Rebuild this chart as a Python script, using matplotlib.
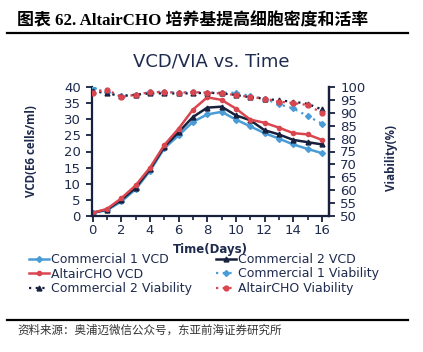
import matplotlib.pyplot as plt
import numpy as np

plt.rcParams['font.family'] = ['DejaVu Sans']

days = np.arange(0, 17)

# VCD (E6 cells/ml)
c1_vcd = [1.0, 1.8, 4.5, 8.3, 14.0, 21.0, 25.0, 29.2, 31.5, 32.3, 29.9, 27.8, 25.7, 24.0, 22.2, 20.8, 19.5]
c2_vcd = [1.0, 2.0, 5.0, 8.8, 14.5, 21.5, 26.0, 30.7, 33.6, 33.9, 31.2, 29.7, 26.6, 25.3, 23.6, 22.9, 22.2]
alt_vcd = [1.0, 2.2, 5.5, 9.5, 15.0, 22.0, 27.1, 33.0, 36.8, 36.0, 33.3, 29.9, 28.9, 27.4, 25.7, 25.3, 23.6]

# viability (%)
c1_via = [99.5, 98.0, 96.5, 97.0, 98.0, 98.2, 97.8, 98.0, 97.8, 97.8, 97.8, 96.5, 95.5, 93.3, 91.7, 88.8, 85.8]
c2_via = [98.5, 97.5, 96.5, 97.0, 97.5, 97.5, 97.5, 97.5, 97.8, 97.5, 96.9, 96.0, 95.5, 94.8, 94.3, 93.5, 91.3]
alt_via = [97.8, 99.0, 96.1, 97.0, 98.0, 98.0, 97.8, 98.0, 97.8, 97.5, 96.9, 96.1, 95.5, 94.3, 93.8, 93.0, 90.0]

blue = '#4a9cd6'
navy = '#17203d'
red = '#d9464f'
txt = '#1f2b4d'

fig = plt.figure(figsize=(4.23, 3.52), dpi=100)
ax = fig.add_axes([92 / 423, 1 - 216 / 352, (329 - 92) / 423, (216 - 87) / 352])
ax2 = ax.twinx()

l1, = ax.plot(days, c1_vcd, color=blue, lw=1.8, marker='D', ms=3, label='Commercial 1 VCD')
l2, = ax.plot(days, c2_vcd, color=navy, lw=1.8, marker='^', ms=3.5, label='Commercial 2 VCD')
l3, = ax.plot(days, alt_vcd, color=red, lw=1.8, marker='o', ms=3, label='AltairCHO VCD')
l4, = ax2.plot(days, c1_via, color=blue, lw=1.6, ls=(0, (1, 2)), marker='D', ms=3, label='Commercial 1 Viability')
l5, = ax2.plot(days, c2_via, color=navy, lw=1.6, ls=(0, (1, 2)), marker='^', ms=3.5, label='Commercial 2 Viability')
l6, = ax2.plot(days, alt_via, color=red, lw=1.6, ls=(0, (1, 2)), marker='o', ms=3.5, label='AltairCHO Viability')

ax.set_xlim(-0.05, 16.5)
ax.set_ylim(0, 40)
ax2.set_ylim(50, 100)
ax.set_xticks(range(0, 17, 2))
ax.set_xticks(range(0, 17), minor=True)
ax.set_yticks(range(0, 41, 5))
ax2.set_yticks(range(50, 101, 5))

for a in (ax, ax2):
    a.spines['top'].set_visible(False)
    for s in ('left', 'right', 'bottom'):
        a.spines[s].set_color(navy)
        a.spines[s].set_linewidth(1.6)
    a.tick_params(colors=navy, labelcolor=txt, labelsize=9.5, width=1.3, length=4, pad=4)
    a.tick_params(which='minor', colors=navy, width=1.2, length=3)
ax2.spines['left'].set_visible(False)
ax2.spines['bottom'].set_visible(False)
ax.tick_params(axis='x', pad=2)

ax.set_xlabel('Time(Days)', fontsize=8.5, fontweight='bold', color=txt)
ax.xaxis.set_label_coords(0.5, -(243 - 216) / 129, transform=ax.transAxes)
ax.set_ylabel('VCD(E6 cells/ml)', fontsize=8.3, fontweight='bold', color=txt,
              family=['Open Sans', 'DejaVu Sans'])
ax.yaxis.set_label_coords(-(92 - 38) / 237, 0.5)
ax2.set_ylabel('Viability(%)', fontsize=8.3, fontweight='bold', color=txt,
               family=['Open Sans', 'DejaVu Sans'])
ax2.yaxis.set_label_coords(1 + (385 - 329) / 237, 0.45)

fig.text(0.5, 1 - 62 / 352, 'VCD/VIA vs. Time', ha='center', va='center',
         fontsize=13, color=txt)

handles = [l1, l3, l5, l2, l4, l6]
leg = fig.legend(handles, [h.get_label() for h in handles], ncol=2,
                 loc='upper left', bbox_to_anchor=(29 / 423, 1 - 253 / 352),
                 frameon=False, fontsize=9, handlelength=1.6, handletextpad=0.15,
                 labelspacing=0.12, columnspacing=1.9, borderaxespad=0, borderpad=0)
for t in leg.get_texts():
    t.set_color(txt)

# header and footer
fig.text(17 / 423, 1 - 21 / 352, '图表 62. AltairCHO 培养基提高细胞密度和活率',
         ha='left', va='center', fontsize=12.2, fontweight='bold', color='black',
         family=['Liberation Serif', 'Noto Sans CJK SC'])
fig.add_artist(plt.Line2D([7 / 423, 408 / 423], [1 - 32.5 / 352] * 2, color='black', lw=1.6))
fig.add_artist(plt.Line2D([7 / 423, 408 / 423], [1 - 320 / 352] * 2, color='black', lw=1.6))
fig.text(17 / 423, 1 - 330 / 352, '资料来源：奥浦迈微信公众号，东亚前海证券研究所',
         ha='left', va='center', fontsize=8.3, color='#333333',
         family=['Noto Sans CJK SC', 'DejaVu Sans'])

fig.savefig('out.png', dpi=100)
